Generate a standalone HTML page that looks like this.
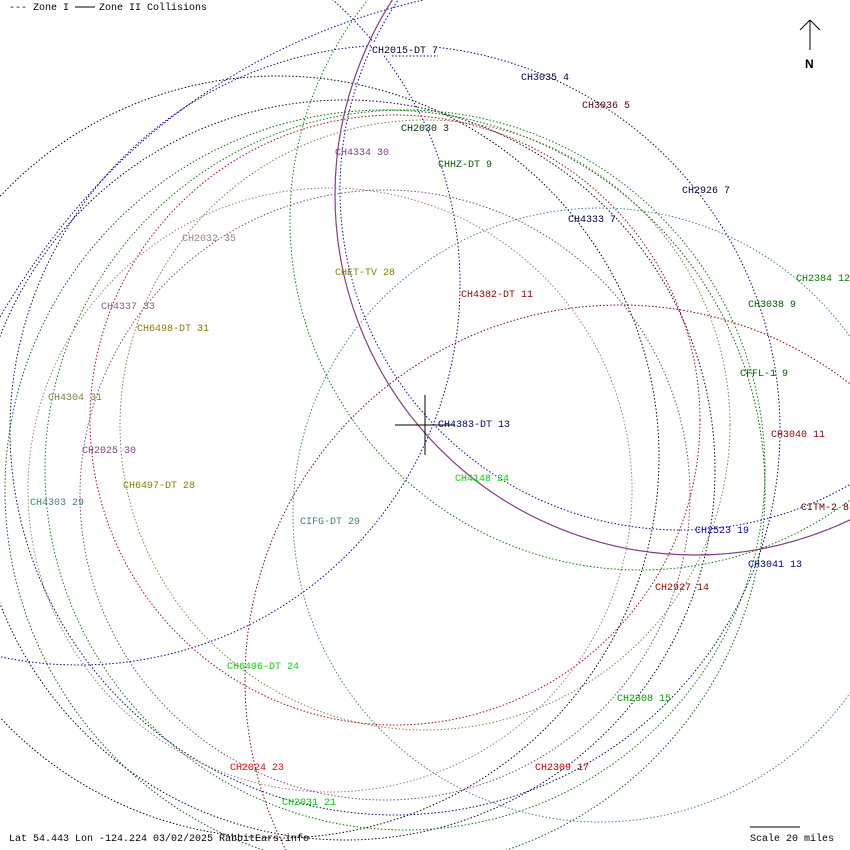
<!DOCTYPE html>
<html><head><meta charset="utf-8"><style>
html,body{margin:0;padding:0;background:#fff;overflow:hidden;}
svg{display:block;}
text{font-family:"Liberation Mono","DejaVu Sans Mono",monospace;font-size:10px;}
</style></head><body>
<svg width="850" height="850" viewBox="0 0 850 850" xmlns="http://www.w3.org/2000/svg">
<g fill="none" stroke-width="1" stroke-dasharray="1.5 2">
<path d="M0,317 Q150,60 432,-2" stroke="#0000aa"/>
<circle cx="79" cy="284" r="381" stroke="#0000aa"/>
<circle cx="395" cy="430" r="385" stroke="#000080"/>
<circle cx="278" cy="457" r="381" stroke="#000000"/>
<circle cx="345" cy="470" r="370" stroke="#000040"/>
<circle cx="385" cy="490" r="380" stroke="#006000"/>
<circle cx="405" cy="470" r="360" stroke="#008000"/>
<circle cx="395" cy="420" r="305" stroke="#c00000"/>
<circle cx="425" cy="425" r="305" stroke="#808040"/>
<circle cx="330" cy="490" r="302" stroke="#a07878"/>
<circle cx="385" cy="495" r="305" stroke="#804080"/>
<circle cx="600" cy="515" r="307" stroke="#408080"/>
<circle cx="620" cy="680" r="375" stroke="#800000"/>
<circle cx="680" cy="190" r="340" stroke="#0000cc"/>
<circle cx="640" cy="220" r="350" stroke="#008000"/>
</g>
<circle cx="695" cy="195" r="360" fill="none" stroke="#804080" stroke-width="1.2"/>
<text x="9" y="10" fill="#000">--- Zone I</text>
<line x1="75" y1="7" x2="95" y2="7" stroke="#000"/>
<text x="99" y="10" fill="#000">Zone II Collisions</text>
<line x1="395" y1="425" x2="455" y2="425" stroke="#000"/>
<line x1="425" y1="395" x2="425" y2="455" stroke="#000"/>
<line x1="810" y1="20" x2="810" y2="50" stroke="#000"/>
<line x1="800" y1="30" x2="810" y2="20" stroke="#000"/>
<line x1="820" y1="30" x2="810" y2="20" stroke="#000"/>
<text x="805" y="68" fill="#000" style="font-family:'Liberation Sans',sans-serif;font-weight:bold;font-size:12px">N</text>
<g>
<rect x="372" y="42" width="66" height="12" fill="#fff"/>
<text x="372" y="53" fill="#000040">CH2015-DT 7</text>
<line x1="392" y1="56" x2="438" y2="56" stroke="#000080" stroke-dasharray="1.5 2"/>
<text x="521" y="80" fill="#000040">CH3035 4</text>
<text x="582" y="108" fill="#600000">CH3036 5</text>
<text x="401" y="131" fill="#003000">CH2030 3</text>
<text x="335" y="155" fill="#804080">CH4334 30</text>
<text x="438" y="167" fill="#006000">CHHZ-DT 9</text>
<text x="682" y="193" fill="#000040">CH2926 7</text>
<text x="568" y="222" fill="#000040">CH4333 7</text>
<text x="182" y="241" fill="#a08080">CH2032 35</text>
<text x="796" y="281" fill="#008000">CH2384 12</text>
<text x="335" y="275" fill="#808000">CHET-TV 28</text>
<text x="461" y="297" fill="#a00000">CH4382-DT 11</text>
<text x="748" y="307" fill="#006000">CH3038 9</text>
<text x="101" y="309" fill="#806080">CH4337 33</text>
<text x="137" y="331" fill="#808000">CH6498-DT 31</text>
<text x="740" y="376" fill="#006000">CFFL-1 9</text>
<text x="48" y="400" fill="#808040">CH4304 31</text>
<text x="438" y="427" fill="#000080">CH4383-DT 13</text>
<text x="771" y="437" fill="#a00000">CH3040 11</text>
<text x="82" y="453" fill="#804080">CH2025 30</text>
<text x="455" y="481" fill="#00e000">CH4148 24</text>
<text x="123" y="488" fill="#808000">CH6497-DT 28</text>
<text x="30" y="505" fill="#408080">CH4303 29</text>
<text x="801" y="510" fill="#600000">CITM-2 8</text>
<text x="300" y="524" fill="#408080">CIFG-DT 29</text>
<text x="695" y="533" fill="#0000cc">CH2523 19</text>
<text x="748" y="567" fill="#000080">CH3041 13</text>
<text x="655" y="590" fill="#a00000">CH2927 14</text>
<text x="227" y="669" fill="#00e000">CH6496-DT 24</text>
<text x="617" y="701" fill="#00a000">CH2308 15</text>
<text x="230" y="770" fill="#ff0000">CH2024 23</text>
<text x="535" y="770" fill="#c00000">CH2309 17</text>
<text x="282" y="805" fill="#00cc00">CH2031 21</text>
</g>
<text x="9" y="841" fill="#000">Lat 54.443 Lon -124.224 03/02/2025 RabbitEars.info</text>
<line x1="750" y1="827" x2="800" y2="827" stroke="#000"/>
<text x="750" y="841" fill="#000">Scale 20 miles</text>
</svg>
</body></html>
